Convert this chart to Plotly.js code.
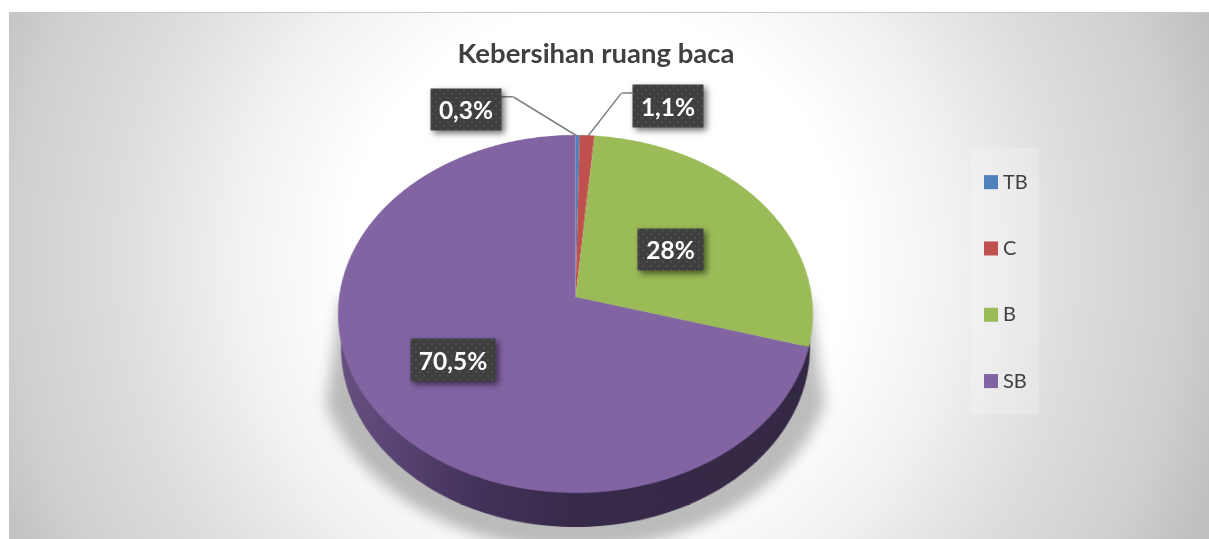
<!DOCTYPE html>
<html>
<head>
<meta charset="utf-8">
<script src="https://cdn.plot.ly/plotly-3.0.1.min.js"></script>
<style>
html,body{margin:0;padding:0;background:#fff;overflow:hidden;width:1209px;height:539px}
#panel{position:absolute;left:9px;top:12px;width:1200px;height:527px;border-top:1px solid #c8c8c8;box-sizing:border-box;
background:radial-gradient(circle at 587px 248px,#fff 0,#fff 250px,#f1f1f1 360px,#dedede 470px,#cfcfcf 586px,#bfbfbf 660px)}
#chart{position:absolute;left:0;top:0;width:1209px;height:539px}
#chart .svg-container>svg.main-svg:first-child{overflow:visible;transform-origin:575.5px 240px;transform:translateY(57px) perspective(1645px) rotateX(41.4deg)}
#chart .cartesianlayer .trace:first-child .fills{filter:blur(7px)}
#chart .annotation-text-g rect.bg{filter:drop-shadow(3px 3px 3px rgba(0,0,0,.55))}
</style>
</head>
<body>
<svg width="0" height="0" style="position:absolute"><defs>
<pattern id="dots" width="8" height="8" patternUnits="userSpaceOnUse">
<rect width="8" height="8" fill="#3f3f3f"></rect>
<circle cx="2" cy="2" r="0.9" fill="#565656"></circle>
<circle cx="6" cy="6" r="0.9" fill="#565656"></circle>
</pattern></defs></svg>
<div id="panel"></div>
<div id="chart"></div>
<script>
var categories = ['TB', 'C', 'B', 'SB'];
var values = [0.3, 1.1, 28, 70.5];
var valueLabels = ['0,3%', '1,1%', '28%', '70,5%'];
var colors = ['#4f81bd', '#c0504d', '#9bbb59', '#8264a3'];

var W = 1209, H = 539, CX = 575.5, CY = 240, R = 236.4;
var FONT = 'Lato, "Open Sans", sans-serif';

function arc(cx, cy, r, a0, a1, n) {
  var xs = [], ys = [];
  for (var i = 0; i <= n; i++) {
    var t = (a0 + (a1 - a0) * i / n) * Math.PI / 180;
    xs.push(cx + r * Math.cos(t)); ys.push(cy + r * Math.sin(t));
  }
  return {x: xs, y: ys};
}
var wallBody = arc(CX, CY + 43.6, R - 7, 0, 180, 120);
var wallTop = arc(CX, CY, R - 7, 180, 0, 120);
var shadowArc = arc(CX, CY + 44, R + 16, 21, 159, 100);

var shadow = {
  type: 'scatter', mode: 'none',
  x: [CX + R - 2].concat(shadowArc.x, [CX - R + 2]),
  y: [CY].concat(shadowArc.y, [CY]), fill: 'toself',
  fillcolor: 'rgba(0,0,0,0.26)', showlegend: false, hoverinfo: 'skip', cliponaxis: false
};
var wall = {
  type: 'scatter', mode: 'none', x: wallBody.x.concat(wallTop.x), y: wallBody.y.concat(wallTop.y), fill: 'toself',
  fillgradient: {type: 'horizontal', colorscale: [[0, '#66507f'], [0.12, '#5a4676'], [0.3, '#43325a'], [0.5, '#372a4a'], [1, '#332843']]},
  showlegend: false, hoverinfo: 'skip', cliponaxis: false
};
var pie = {
  type: 'pie', labels: categories.map(function (c) { return '<span style="font-size:20px">' + c + '</span>'; }),
  values: values, sort: false, direction: 'clockwise', rotation: 0,
  textinfo: 'none', marker: {colors: colors, line: {width: 0}},
  domain: {x: [(CX - R) / W, (CX + R) / W], y: [(H - CY - R) / H, (H - CY + R) / H]}
};

function leader(x0, y0, x1, y1) {
  return {xref: 'x', yref: 'y', axref: 'x', ayref: 'y', x: x1, y: y1, ax: x0, ay: y0, text: ' ', font: {size: 1},
    showarrow: true, arrowhead: 0, arrowwidth: 1.5, arrowcolor: '#7f7f7f', standoff: 0, startstandoff: 0, borderpad: 0};
}
var labelBoxes = [[466, 109.5, 70, 41], [668, 106, 70, 42], [670.5, 249, 65, 41], [453, 360, 84, 42]];
var boxes = valueLabels.map(function (t, i) {
  var b = labelBoxes[i];
  return {xref: 'x', yref: 'y', x: b[0], y: b[1], text: '<b>' + t + '</b>', showarrow: false,
    width: b[2], height: b[3], bgcolor: '#3f3f3f', borderpad: 0,
    font: {family: FONT, size: 24.5, color: '#ffffff'}};
});

var layout = {
  width: W, height: H, margin: {l: 0, r: 0, t: 0, b: 0},
  paper_bgcolor: 'rgba(0,0,0,0)', plot_bgcolor: 'rgba(0,0,0,0)',
  title: {text: '<b>Kebersihan ruang baca</b>', x: 596 / W, xanchor: 'center', y: 1 - 53 / H, yanchor: 'middle',
    font: {family: FONT, size: 27.5, color: '#404040'}},
  xaxis: {visible: false, range: [0, W], fixedrange: true},
  yaxis: {visible: false, range: [H, 0], fixedrange: true},
  showlegend: true,
  legend: {x: 971 / W, xanchor: 'left', y: 1 - 148 / H, yanchor: 'top', bgcolor: 'rgba(255,255,255,0.22)',
    font: {family: FONT, size: 48.7, color: '#404040'}, traceorder: 'normal', itemclick: false, itemdoubleclick: false},
  annotations: [
    leader(501, 96.7, 513, 96.7), leader(513, 96.7, 577, 136),
    leader(633, 93, 621.5, 93), leader(621.5, 93, 588, 136)
  ].concat(boxes)
};

Plotly.newPlot('chart', [shadow, wall, pie], layout, {displayModeBar: false}).then(function (gd) {
  gd.querySelectorAll('.annotation-text-g rect.bg').forEach(function (r) {
    if (parseFloat(r.getAttribute('width')) > 30) r.style.setProperty('fill', 'url(#dots)', 'important');
  });
  var bg = gd.querySelector('.legend rect.bg');
  if (bg) { bg.setAttribute('width', '68'); bg.setAttribute('height', '266'); }
  gd.querySelectorAll('.legend .traces').forEach(function (g) {
    var m = /translate\(([-\d.]+),\s*([-\d.]+)\)/.exec(g.getAttribute('transform') || '');
    if (m) g.setAttribute('transform', 'translate(' + m[1] + ',' + (parseFloat(m[2]) - 4) + ')');
    var t = g.querySelector('text.legendtext');
    if (t) { t.setAttribute('y', '6.5'); t.setAttribute('x', String(parseFloat(t.getAttribute('x')) - 8)); }
    var p = g.querySelector('.legendpoints path');
    if (p) p.setAttribute('transform', (p.getAttribute('transform') || '') + ' scale(1.17)');
  });
});
</script>
</body>
</html>
